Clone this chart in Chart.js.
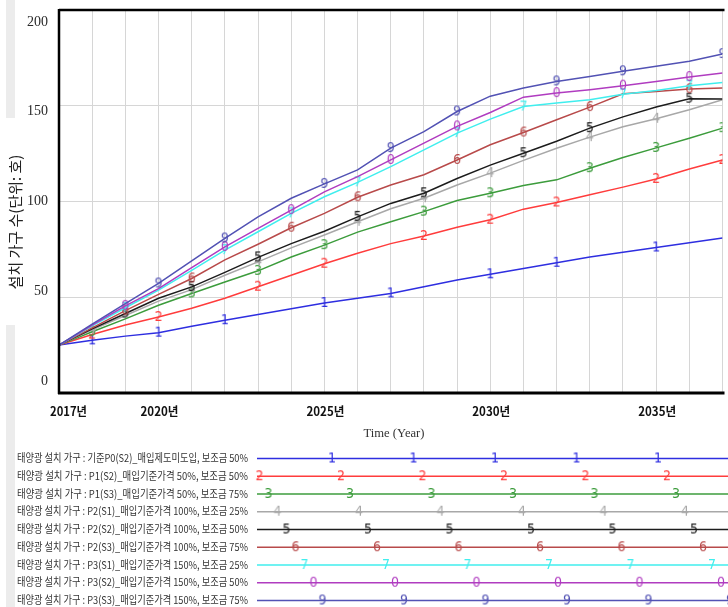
<!DOCTYPE html>
<html>
<head>
<meta charset="utf-8">
<script src="https://cdn.jsdelivr.net/npm/chart.js@4.4.1/dist/chart.umd.min.js"></script>
<style>
  html, body { margin: 0; padding: 0; background: #fff; }
  #wrap { width: 728px; height: 607px; position: relative; }
</style>
</head>
<body>
<div id="wrap"><canvas id="chart" width="728" height="607"></canvas></div>
<script>
// Simulation years (x axis)
const years = [2017, 2018, 2019, 2020, 2021, 2022, 2023, 2024, 2025, 2026, 2027,
               2028, 2029, 2030, 2031, 2032, 2033, 2034, 2035, 2036, 2037];

// Axis ticks
const yTicks = [0, 50, 100, 150, 200];
const xTickYears = [2017, 2020, 2025, 2030, 2035];
const xTickSuffix = '년';

// Installed households (단위: 호) per scenario
const p0s2 = [25, 27.5, 29.7, 31.5, 34.8, 38, 41, 44, 47, 49.5, 52, 55.5, 59, 62, 65, 68, 71, 73.5, 76, 78.5, 81];
const p1s2 = [25, 30.5, 35.5, 39.7, 44.3, 49.5, 55.5, 61.5, 67.5, 73, 78, 82, 86.5, 90.5, 96, 99.5, 103.5, 107.5, 111.8, 117, 121.7];
const p1s3 = [25, 32, 38.7, 45.8, 52, 58, 63.8, 71, 77.2, 84, 89.4, 94.7, 100.5, 104.3, 108.3, 111.3, 117.4, 123, 128, 133, 138.3];
const p2s1 = [25, 33, 40.5, 48, 54, 61.5, 68.5, 75.8, 82.5, 89.4, 96.2, 101.7, 108.6, 114.8, 121.5, 127.8, 133.6, 139, 143.2, 147.9, 153.1];
const p2s2 = [25, 33.5, 41.5, 49.5, 55.4, 63, 70.8, 78, 84.5, 92, 99, 104.3, 112, 119, 125.2, 131.5, 138.3, 144.2, 149.3, 153.7, 153.5];
const p2s3 = [25, 34, 43, 51.5, 59.8, 69.5, 77.7, 86.3, 93.8, 102.2, 108.6, 114, 121.7, 129.6, 136, 142.7, 149.3, 156.3, 157.5, 158.7, 159.3];
const p3s1 = [25, 35, 44.5, 53.7, 64, 74.6, 84.2, 93.8, 102.5, 110, 118.2, 127, 135.7, 143, 149.6, 151.4, 153.1, 156, 158, 160.5, 162.2];
const p3s2 = [25, 35.5, 45.5, 54.5, 65.5, 76.3, 86, 95.5, 105, 113, 121.7, 130.5, 139.2, 146.5, 154.5, 156.6, 158.4, 160.5, 162.7, 165, 167.1];
const p3s3 = [25, 36, 46.7, 57.2, 69, 80.7, 92, 101.7, 109.2, 116.5, 127.9, 136.5, 147, 155, 159.3, 162.7, 165.3, 168, 170.6, 173.2, 177];

// Scenario names
const seriesNames = [
  '태양광 설치 가구 : 기준P0(S2)_매입제도미도입, 보조금 50%',
  '태양광 설치 가구 : P1(S2)_매입기준가격 50%, 보조금 50%',
  '태양광 설치 가구 : P1(S3)_매입기준가격 50%, 보조금 75%',
  '태양광 설치 가구 : P2(S1)_매입기준가격 100%, 보조금 25%',
  '태양광 설치 가구 : P2(S2)_매입기준가격 100%, 보조금 50%',
  '태양광 설치 가구 : P2(S3)_매입기준가격 100%, 보조금 75%',
  '태양광 설치 가구 : P3(S1)_매입기준가격 150%, 보조금 25%',
  '태양광 설치 가구 : P3(S2)_매입기준가격 150%, 보조금 50%',
  '태양광 설치 가구 : P3(S3)_매입기준가격 150%, 보조금 75%'
];
const seriesDigits = ['1', '2', '3', '4', '5', '6', '7', '0', '9'];

// Years at which each line carries its number marker
const marks1 = [2018, 2020, 2022, 2025, 2027, 2030, 2032, 2035];
const marks2 = [2018, 2020, 2023, 2025, 2028, 2030, 2032, 2035, 2037];
const marks3 = [2018, 2021, 2023, 2025, 2028, 2030, 2033, 2035, 2037];
const marks4 = [2018, 2021, 2023, 2026, 2028, 2030, 2033, 2035];
const marks5 = [2019, 2021, 2023, 2026, 2028, 2031, 2033, 2036];
const marks6 = [2019, 2021, 2024, 2026, 2029, 2031, 2033, 2036];
const marks7 = [2019, 2022, 2024, 2026, 2029, 2031, 2034, 2036];
const marks8 = [2019, 2022, 2024, 2027, 2029, 2032, 2034, 2036];
const marks9 = [2020, 2022, 2025, 2027, 2029, 2032, 2034, 2037];

const seriesValues = [p0s2, p1s2, p1s3, p2s1, p2s2, p2s3, p3s1, p3s2, p3s3];
const seriesMarks = [marks1, marks2, marks3, marks4, marks5, marks6, marks7, marks8, marks9];
const seriesColors = ['#2e2ee0', '#ff3c3c', '#3c9c3c', '#a8a8a8', '#1c1c1c',
                      '#b84a4a', '#40eeee', '#b03cc0', '#5252b4'];

const DIGIT_FONT = '14px "Liberation Sans Narrow", "DejaVu Sans Condensed", sans-serif';

// Small bitmap with a series number, used as the point style
function digitImage(d, color) {
  const c = document.createElement('canvas');
  c.width = 10; c.height = 16;
  const g = c.getContext('2d');
  g.font = DIGIT_FONT;
  g.fillStyle = color;
  g.textAlign = 'center';
  g.textBaseline = 'middle';
  g.fillText(d, 5, 8.5, 9);
  return c;
}
const digitImages = seriesDigits.map((d, i) => digitImage(d, seriesColors[i]));

const datasets = seriesValues.map((vals, k) => ({
  label: seriesNames[k],
  data: years.map((yr, i) => ({ x: yr, y: vals[i] })),
  borderColor: seriesColors[k],
  backgroundColor: seriesColors[k],
  borderWidth: 1.5,
  tension: 0,
  fill: false,
  order: 9 - k,
  pointStyle: ctx => seriesMarks[k].includes(years[ctx.dataIndex]) ? digitImages[k] : 'circle',
  pointRadius: ctx => seriesMarks[k].includes(years[ctx.dataIndex]) ? 4 : 0,
  pointHoverRadius: 0
}));

// Frame, axis labels, titles and the bottom key
const decor = {
  id: 'decor',
  beforeDraw(chart) {
    const { ctx } = chart;
    ctx.save();
    ctx.fillStyle = '#ffffff';
    ctx.fillRect(0, 0, chart.width, chart.height);
    ctx.fillStyle = '#ececec';
    ctx.fillRect(6, 0, 9, 118);
    ctx.fillRect(6, 325, 9, 282);
    ctx.restore();
  },
  afterDatasetsDraw(chart) {
    const { ctx, chartArea: a, scales } = chart;
    const xs = scales.x, ys = scales.y;
    ctx.save();

    // frame lines
    ctx.strokeStyle = '#000';
    ctx.lineWidth = 2.5;
    ctx.beginPath();
    ctx.moveTo(a.left, a.top); ctx.lineTo(a.right + 2, a.top);
    ctx.moveTo(a.left, a.top - 1); ctx.lineTo(a.left, a.bottom + 1);
    ctx.stroke();
    ctx.lineWidth = 3;
    ctx.beginPath();
    ctx.moveTo(a.left - 1, a.bottom); ctx.lineTo(a.right + 2, a.bottom);
    ctx.stroke();

    // y tick labels, drawn slightly inside the range
    const mid = (a.top + a.bottom) / 2;
    ctx.fillStyle = '#2a2a2a';
    ctx.font = '14px "Liberation Serif", serif';
    ctx.textAlign = 'right';
    ctx.textBaseline = 'middle';
    yTicks.forEach(v => {
      const py = ys.getPixelForValue(v);
      ctx.fillText(String(v), 48, py + (mid - py) * 0.062);
    });

    // x tick labels
    ctx.font = 'bold 12.5px "Noto Sans CJK KR", sans-serif';
    ctx.fillStyle = '#111';
    xTickYears.forEach((yr, i) => {
      const px = xs.getPixelForValue(yr);
      if (i === 0) {
        ctx.textAlign = 'left';
        ctx.fillText(yr + xTickSuffix, px - 9, 411, 37);
      } else {
        ctx.textAlign = 'center';
        ctx.fillText(yr + xTickSuffix, px + 1, 411, 38);
      }
    });

    // axis titles
    ctx.textAlign = 'center';
    ctx.fillStyle = '#333';
    ctx.font = '13px "Liberation Serif", serif';
    ctx.fillText('Time (Year)', 394, 434, 61);
    ctx.save();
    ctx.translate(15, 222);
    ctx.rotate(-Math.PI / 2);
    ctx.font = '15px "Noto Sans CJK KR", sans-serif';
    ctx.fillStyle = '#222';
    ctx.fillText('설치 가구 수(단위: 호)', 0, 0, 158);
    ctx.restore();

    // key rows
    seriesNames.forEach((name, k) => {
      const y = 458 + k * 17.75;
      ctx.fillStyle = '#333';
      ctx.font = '11px "Noto Sans CJK KR", sans-serif';
      ctx.textAlign = 'left';
      ctx.textBaseline = 'middle';
      ctx.fillText(name, 17, y, 231);
      ctx.strokeStyle = seriesColors[k];
      ctx.lineWidth = 1.5;
      ctx.beginPath();
      ctx.moveTo(257, y + 0.5);
      ctx.lineTo(728, y + 0.5);
      ctx.stroke();
      let px = 332 + k * 9 - 81.5;
      if (px < 252) px += 81.5;
      for (; px < 732; px += 81.5) {
        const img = digitImages[k];
        ctx.drawImage(img, px - img.width / 2, y - img.height / 2 + 0.5);
      }
    });

    ctx.restore();
  }
};

new Chart(document.getElementById('chart'), {
  type: 'line',
  data: { datasets },
  options: {
    responsive: false,
    animation: false,
    devicePixelRatio: 1,
    layout: { padding: { left: 59, top: 10, right: 0, bottom: 214 } },
    plugins: { legend: { display: false }, tooltip: { enabled: false } },
    scales: {
      x: {
        type: 'linear', min: 2017, max: 2037,
        ticks: { display: false, stepSize: 1 },
        grid: { color: '#d6d6d6', lineWidth: 1, drawTicks: false },
        border: { display: false }
      },
      y: {
        min: 0, max: 200,
        ticks: { display: false, stepSize: 50 },
        grid: { color: '#d6d6d6', lineWidth: 1, drawTicks: false },
        border: { display: false }
      }
    }
  },
  plugins: [decor]
});
</script>
</body>
</html>
